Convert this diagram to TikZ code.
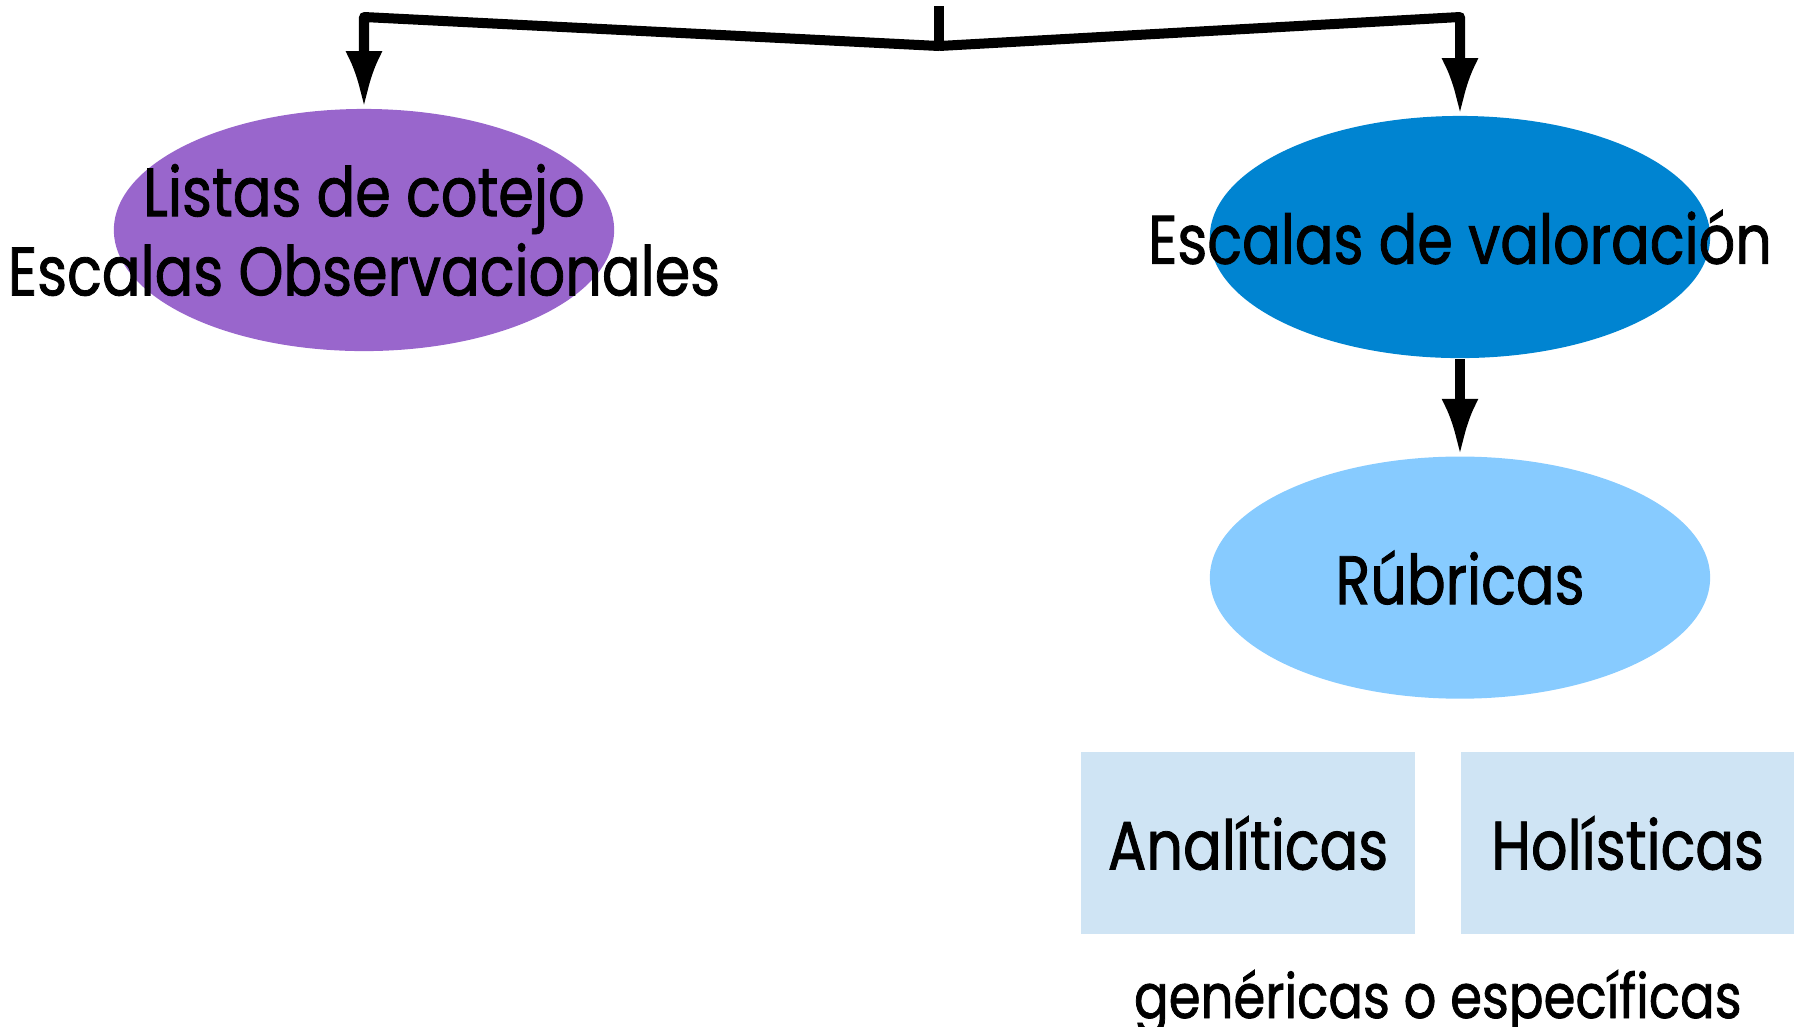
\documentclass[tikz,border=0pt]{standalone}
\usepackage{fontspec}
\setmainfont{Poppins}[FakeStretch=0.835, FakeBold=1.2]
\usetikzlibrary{arrows.meta, positioning, calc, shapes.geometric}

\definecolor{listas}{HTML}{9966CC}
\definecolor{escalas}{HTML}{0084D1}
\definecolor{rubricas}{HTML}{87CBFF}
\definecolor{tipos}{HTML}{CFE4F4}

\begin{document}
\begin{tikzpicture}[
        x=0.01cm, y=-0.01cm,
        oval/.style={ellipse, minimum width=5cm, minimum height=2.42cm, inner sep=0pt},
        box/.style={rectangle, fill=tipos, minimum width=3.33cm, minimum height=1.81cm, inner sep=0pt},
        txt/.style={font=\fontsize{19.5}{22.5}\selectfont, align=center, inner sep=0pt},
        line/.style={line width=0.1cm, line join=round},
        arrow/.style={line, -{Latex[length=0.57cm, width=0.37cm]}}
    ]
    \useasboundingbox (0,0) rectangle (1796,1026);

    % Ellipses
    \node[oval, fill=listas] (listas) at (364,230) {};
    \node[txt] at (listas.center) {Listas de cotejo\\Escalas Observacionales};

    \node[oval, fill=escalas] (escalas) at (1460,237) {};
    \node[txt] at (escalas.center) {Escalas de valoración};

    \node[oval, fill=rubricas, below=0.97cm of escalas] (rubricas) {};
    \node[txt] at (rubricas.center) {Rúbricas};

    % Types of rubrics
    \node[box] (anal) at (1248,843) {\fontsize{19.5}{22.5}\selectfont Analíticas};
    \node[box, right=0.45cm of anal] (holi) {\fontsize{19.5}{22.5}\selectfont Holísticas};
    \node[txt, font=\fontsize{17.5}{20}\selectfont] (gen) at ($(anal.south)!0.5!(holi.south)+(0,68)$) {genéricas o específicas};

    % --- Top branching ---
    \coordinate (top) at (939,6);
    \coordinate (split) at (939,46);
    \coordinate (cornerL) at (364,17);
    \coordinate (cornerR) at (1460,17);

    \draw [line] (top) -- (split);
    \draw [arrow] (split) -- (cornerL) -- (listas.north);
    \draw [arrow] (split) -- (cornerR) -- (escalas.north);

    % Escalas to Rubricas
    \draw [arrow] (escalas.south) -- (rubricas.north);

\end{tikzpicture}
\end{document}
